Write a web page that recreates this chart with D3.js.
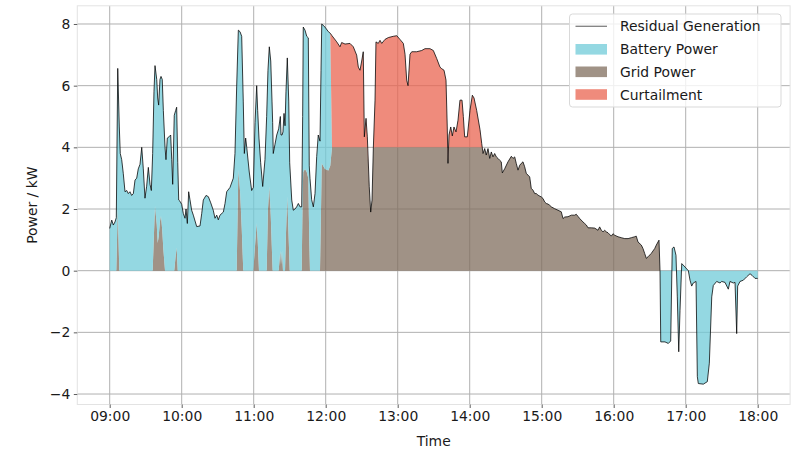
<!DOCTYPE html>
<html><head><meta charset="utf-8">
<script src="https://cdn.jsdelivr.net/npm/d3@7"></script>
<style>body{margin:0;background:#fff}svg{display:block}</style>
</head><body><svg id="c" width="800" height="449"></svg>
<script>
// minutes after 09:00
const minutes = [
0,1.7,3,4.4,5.5,6.7,8,8.8,10,11.3,
12.75,14.2,15.5,16.9,18.3,19.7,21.1,22.5,23.8,25.25,
26.7,28,29.4,30.8,32.2,33.6,34.7,35.8,36.9,37.75,
39.2,40,40.8,41.9,42.75,43.8,44.7,46.1,46.9,48,
49.7,50.8,51.7,52.5,53.8,55,55.8,56.7,57.5,58.6,
60,61.3,62.75,63.6,64.7,65.8,66.9,68.3,69.7,72.5,
75.25,76.7,78,80.25,82.2,84.2,86.3,87.75,89.2,90.5,
91.9,94.7,96.1,97.5,100.25,103,104.4,105.8,107.2,108.6,
110,111.3,112.2,113.3,114.2,116.3,118.3,119.7,121.1,122.5,
123.3,124.4,125.8,127.5,129.4,130.8,131.9,133,134.2,135.25,
135.8,136.3,137.75,139.2,140.8,142.2,142.75,143.6,144.4,145.25,
146.1,146.9,148,149.2,150,151.7,153,154.4,155.8,157.2,
158.6,160,160.8,161.3,162.75,164.2,165.5,166.3,166.9,168.3,
169.7,171.1,172.5,173.8,175.25,176.1,176.7,179.4,182.2,183.8,
185.25,189.2,191.9,193.3,196.1,200.25,203,205.8,207.2,208.6,
210,211.3,212.2,213.6,214.7,216.3,217.5,218.6,219.7,221.1,
221.9,223.8,225.25,226.7,229.4,232.2,236.3,239.2,241.9,244.7,
246.1,247.5,248.6,250.25,251.7,255.8,260,262.75,266.9,269.7,
272.5,275.25,276.7,278.6,280.25,281.3,281.9,282.75,284.2,285.5,
286.9,288.6,290.25,291.9,293.6,294.7,295.8,298,300.25,302.2,
303.6,305.8,308.6,310,
311.1,312.5,313.8,315.25,316.7,318,319.4,320.8,322.2,323.6,
325,326.3,327.2,329.2,331.9,334.7,336.1,337.5,338.8,340.25,
341.7,343,344.4,345.8,347.2,348.6,350,351.3,352.75,354.2,
355.5,356.9,359.7,361.1,362.5,363.8,365.25,366.7,368,370.8,
373.6,376.3,377.75,379.2,381.9,384.7,387.5,388.8,390.25,391.7,
394.4,395.8,397.2,398.6,401.3,404.2,406.9,408.3,409.7,411.1,
412.5,413.8,415.25,418,419.4,420.8,423.6,426.3,429.2,432,
434.75,437.5,438.8,440.25,443,444.4,445.8,447.2,448.6,451.3,
454.2,455.5,456.9,457.75,458.6,
459.2,462.75,465.5,467.5,468.8,470.25,471.9,473,474.2,475.25,
476.7,479.4,482.2,483.6,485,486.3,488.6,489.7,490.5,494.7,
498,499.7,501.7,503,505.8,508.6,510,512.75,515.5,516.9,
519.7,521.1,522.5,523.3,525.25,528,530.8,533.6,535.25,537.75,
540
];
// Residual Generation (kW)
const residual = [
1.37,1.64,1.48,1.58,1.72,6.56,4.66,3.8,3.6,3.16,
2.56,2.6,2.5,2.56,2.44,2.5,2.94,3.0,3.3,3.45,
4.0,3.3,2.35,2.74,3.35,2.8,2.6,3.8,5.8,6.65,
6.2,5.6,5.37,6.2,6.3,6.2,5.2,4.0,3.6,4.3,
4.35,4.4,3.6,2.8,5.04,5.2,5.3,3.5,2.29,2.25,
2.15,1.86,1.7,2.0,1.53,2.56,2.3,1.96,1.8,1.43,
1.45,1.86,2.29,2.44,2.4,2.2,1.96,1.7,1.8,1.65,
1.8,1.9,2.18,2.56,2.7,3.0,3.8,5.96,7.8,7.75,
7.6,5.5,3.8,4.3,4.0,3.2,2.6,2.7,4.8,6.0,
5.2,4.3,3.5,2.73,3.6,5.0,6.5,7.26,6.8,5.5,
4.8,3.8,4.1,4.4,4.6,5.0,4.4,4.4,4.5,5.1,
4.7,5.8,6.9,5.5,3.5,2.29,1.96,2.0,2.07,2.18,
2.07,2.07,5.0,7.9,7.8,7.6,7.55,3.4,3.0,2.3,
2.07,2.5,3.7,4.4,4.2,6.5,8.0,7.9,7.75,7.7,
7.62,7.42,7.26,7.4,7.35,7.37,7.26,6.99,6.6,6.5,
6.8,7.1,4.34,4.94,4.34,2.72,1.9,2.29,3.98,5.53,
7.42,7.37,7.47,7.37,7.5,7.56,7.6,7.62,7.5,7.37,
7.02,6.18,6.0,7.02,7.1,7.1,7.14,7.2,7.2,7.14,
6.88,6.6,6.55,6.5,6.18,4.66,3.48,4.4,4.66,4.37,
4.66,4.5,4.88,5.53,5.53,5.0,4.34,4.34,5.2,5.69,
5.6,5.2,4.57,4.13,
3.8,3.96,3.75,3.96,3.64,3.85,3.69,3.8,3.69,3.64,
3.58,3.53,3.17,3.31,3.53,3.71,3.64,3.69,3.48,3.26,
3.42,3.48,3.53,3.37,3.15,3.1,3.04,2.67,2.61,2.5,
2.5,2.45,2.39,2.34,2.23,2.18,2.16,2.12,2.07,2.01,
1.96,1.91,1.69,1.74,1.75,1.8,1.8,1.83,1.76,1.69,
1.58,1.53,1.48,1.39,1.39,1.38,1.31,1.42,1.31,1.26,
1.31,1.26,1.23,1.12,1.2,1.15,1.1,1.07,1.04,1.04,
1.07,1.1,1.12,0.93,0.83,0.72,0.56,0.4,0.45,0.56,
0.72,0.83,0.93,0.99,0,
-2.31,-2.31,-2.36,-2.28,0.72,0.77,0.5,-0.85,-2.63,-1.3,
0.23,0.12,0,-0.31,-0.5,-0.4,-0.35,-3.44,-3.66,-3.68,
-3.6,-3.0,-0.85,-0.48,-0.35,-0.4,-0.35,-0.38,-0.6,-0.35,
-0.4,-0.38,-2.04,-0.5,-0.35,-0.31,-0.2,-0.1,-0.15,-0.25,
-0.25
];
// Grid Power (kW)
const grid = [
0,0,0,0,0,2.05,0,0,0,0,
0,0,0,0,0,0,0,0,0,0,
0,0,0,0,0,0,0,0,1.2,2.1,
1.5,0.9,1.1,1.6,1.78,1.3,0.7,0,0,0,
0,0,0,0,0,0.5,0.75,0,0,0,
0,0,0,0,0,0,0,0,0,0,
0,0,0,0,0,0,0,0,0,0,
0,0,0,0,0,0,0,0,3.26,2.6,
1.4,0,0,0,0,0,0,0,0.8,1.54,
1.0,0,0,0,0,0,2.0,2.72,1.8,0.6,
0,0,0,0,0,0.65,0.2,0.65,0,0,
0,1.2,2.4,1.0,0,0,0,0,0,0,
0,0,2.5,3.2,3.3,3.2,3.0,1.0,0,0,
0,0,0,0,0,2.0,3.48,3.3,3.25,3.4,
4,4,4,4,4,4,4,4,4,4,
4,4,4,4,4,2.72,1.9,2.29,3.98,4,
4,4,4,4,4,4,4,4,4,4,
4,4,4,4,4,4,4,4,4,4,
4,4,4,4,4,4,3.48,4,4,4,
4,4,4,4,4,4,4,4,4,4,
4,4,4,4,
3.8,3.96,3.75,3.96,3.64,3.85,3.69,3.8,3.69,3.64,
3.58,3.53,3.17,3.31,3.53,3.71,3.64,3.69,3.48,3.26,
3.42,3.48,3.53,3.37,3.15,3.1,3.04,2.67,2.61,2.5,
2.5,2.45,2.39,2.34,2.23,2.18,2.16,2.12,2.07,2.01,
1.96,1.91,1.69,1.74,1.75,1.8,1.8,1.83,1.76,1.69,
1.58,1.53,1.48,1.39,1.39,1.38,1.31,1.42,1.31,1.26,
1.31,1.26,1.23,1.12,1.2,1.15,1.1,1.07,1.04,1.04,
1.07,1.1,1.12,0.93,0.83,0.72,0.56,0.4,0.45,0.56,
0.72,0.83,0.93,0.99,0,
0,0,0,0,0,0,0,0,0,0,
0,0,0,0,0,0,0,0,0,0,
0,0,0,0,0,0,0,0,0,0,
0,0,0,0,0,0,0,0,0,0,
0
];
// Battery Power (kW)
const battery = [
1.37,1.64,1.48,1.58,1.72,4.51,4.66,3.8,3.6,3.16,
2.56,2.6,2.5,2.56,2.44,2.5,2.94,3.0,3.3,3.45,
4.0,3.3,2.35,2.74,3.35,2.8,2.6,3.8,4.6,4.55,
4.7,4.7,4.27,4.6,4.52,4.9,4.5,4.0,3.6,4.3,
4.35,4.4,3.6,2.8,5.04,4.7,4.55,3.5,2.29,2.25,
2.15,1.86,1.7,2.0,1.53,2.56,2.3,1.96,1.8,1.43,
1.45,1.86,2.29,2.44,2.4,2.2,1.96,1.7,1.8,1.65,
1.8,1.9,2.18,2.56,2.7,3.0,3.8,5.96,4.54,5.15,
6.2,5.5,3.8,4.3,4.0,3.2,2.6,2.7,4.0,4.46,
4.2,4.3,3.5,2.73,3.6,5.0,4.5,4.54,5.0,4.9,
4.8,3.8,4.1,4.4,4.6,4.35,4.2,3.75,4.5,5.1,
4.7,4.6,4.5,4.5,3.5,2.29,1.96,2.0,2.07,2.18,
2.07,2.07,2.5,4.7,4.5,4.4,4.55,2.4,3.0,2.3,
2.07,2.5,3.7,4.4,4.2,4.5,4.52,4.6,4.5,4.3,
0,0,0,0,0,0,0,0,0,0,
0,0,0,0,0,0,0,0,0,0,
0,0,0,0,0,0,0,0,0,0,
0,0,0,0,0,0,0,0,0,0,
0,0,0,0,0,0,0,0,0,0,
0,0,0,0,0,0,0,0,0,0,
0,0,0,0,
0,0,0,0,0,0,0,0,0,0,
0,0,0,0,0,0,0,0,0,0,
0,0,0,0,0,0,0,0,0,0,
0,0,0,0,0,0,0,0,0,0,
0,0,0,0,0,0,0,0,0,0,
0,0,0,0,0,0,0,0,0,0,
0,0,0,0,0,0,0,0,0,0,
0,0,0,0,0,0,0,0,0,0,
0,0,0,0,0,
-2.31,-2.31,-2.36,-2.28,0.72,0.77,0.5,-0.85,-2.63,-1.3,
0.23,0.12,0,-0.31,-0.5,-0.4,-0.35,-3.44,-3.66,-3.68,
-3.6,-3.0,-0.85,-0.48,-0.35,-0.4,-0.35,-0.38,-0.6,-0.35,
-0.4,-0.38,-2.04,-0.5,-0.35,-0.31,-0.2,-0.1,-0.15,-0.25,
-0.25
];
// Curtailment (kW)
const curtailment = [
0,0,0,0,0,0,0,0,0,0,
0,0,0,0,0,0,0,0,0,0,
0,0,0,0,0,0,0,0,0,0,
0,0,0,0,0,0,0,0,0,0,
0,0,0,0,0,0,0,0,0,0,
0,0,0,0,0,0,0,0,0,0,
0,0,0,0,0,0,0,0,0,0,
0,0,0,0,0,0,0,0,0,0,
0,0,0,0,0,0,0,0,0,0,
0,0,0,0,0,0,0,0,0,0,
0,0,0,0,0,0,0,0,0,0,
0,0,0,0,0,0,0,0,0,0,
0,0,0,0,0,0,0,0,0,0,
0,0,0,0,0,0,0,0,0,0,
3.62,3.42,3.26,3.4,3.35,3.37,3.26,2.99,2.6,2.5,
2.8,3.1,0.34,0.94,0.34,0,0,0,0,1.53,
3.42,3.37,3.47,3.37,3.5,3.56,3.6,3.62,3.5,3.37,
3.02,2.18,2.0,3.02,3.1,3.1,3.14,3.2,3.2,3.14,
2.88,2.6,2.55,2.5,2.18,0.66,0,0.4,0.66,0.37,
0.66,0.5,0.88,1.53,1.53,1.0,0.34,0.34,1.2,1.69,
1.6,1.2,0.57,0.13,
0,0,0,0,0,0,0,0,0,0,
0,0,0,0,0,0,0,0,0,0,
0,0,0,0,0,0,0,0,0,0,
0,0,0,0,0,0,0,0,0,0,
0,0,0,0,0,0,0,0,0,0,
0,0,0,0,0,0,0,0,0,0,
0,0,0,0,0,0,0,0,0,0,
0,0,0,0,0,0,0,0,0,0,
0,0,0,0,0,
0,0,0,0,0,0,0,0,0,0,
0,0,0,0,0,0,0,0,0,0,
0,0,0,0,0,0,0,0,0,0,
0,0,0,0,0,0,0,0,0,0,
0
];
const xTickLabels = ["09:00","10:00","11:00","12:00","13:00","14:00","15:00","16:00","17:00","18:00"];
const yTickValues = [-4,-2,0,2,4,6,8];
const legendLabels = ["Residual Generation","Battery Power","Grid Power","Curtailment"];
const xLabel = "Time", yLabel = "Power / kW";

const colors = {battery:"#70cbd8", grid:"#806e5e", curtail:"#ea6450"};
const FONT = "'DejaVu Sans', sans-serif";

const svg = d3.select("#c");
const L = 77.3, R = 790.1, T = 5.8, B = 404.5;
const x = d3.scaleLinear().domain([-27, 567]).range([L, R]);
const y = d3.scaleLinear().domain([-4.34, 8.59]).range([B, T]);
const xTickValues = xTickLabels.map(s => { const [h, m] = s.split(":").map(Number); return (h - 9) * 60 + m; });

const n = Math.min(minutes.length, residual.length, grid.length, battery.length, curtailment.length);
const data = minutes.slice(0, n).map((m, i) => ({m, r: residual[i], g: grid[i], b: battery[i], c: curtailment[i]}));

// grid lines
const gl = svg.append("g");
xTickValues.forEach(v => gl.append("line").attr("x1", x(v)).attr("x2", x(v)).attr("y1", T).attr("y2", B)
  .attr("stroke", "#b0b0b0").attr("stroke-width", 1));
yTickValues.forEach(v => gl.append("line").attr("x1", L).attr("x2", R).attr("y1", y(v)).attr("y2", y(v))
  .attr("stroke", "#b0b0b0").attr("stroke-width", 1));

// stacked fills
const areaG = d3.area().x(d => x(d.m)).y0(y(0)).y1(d => y(d.g));
const areaB = d3.area().x(d => x(d.m)).y0(d => y(d.g)).y1(d => y(d.g + d.b));
const areaC = d3.area().x(d => x(d.m)).y0(d => y(d.g + d.b)).y1(d => y(d.g + d.b + d.c));
svg.append("path").datum(data).attr("d", areaG).attr("fill", colors.grid).attr("fill-opacity", 0.75);
svg.append("path").datum(data).attr("d", areaB).attr("fill", colors.battery).attr("fill-opacity", 0.75);
svg.append("path").datum(data).attr("d", areaC).attr("fill", colors.curtail).attr("fill-opacity", 0.75);

// residual line
const line = d3.line().x(d => x(d.m)).y(d => y(d.r));
svg.append("path").datum(data).attr("d", line).attr("fill", "none")
  .attr("stroke", "#000").attr("stroke-opacity", 0.8).attr("stroke-width", 0.95).attr("stroke-linejoin", "round");

// frame
svg.append("rect").attr("x", L).attr("y", T).attr("width", R - L).attr("height", B - T)
  .attr("fill", "none").attr("stroke", "#e3e3e3").attr("stroke-width", 1);

// axes
const xAxis = svg.append("g").attr("transform", `translate(0,${B})`)
  .call(d3.axisBottom(x).tickValues(xTickValues).tickFormat((d, i) => xTickLabels[i]).tickSize(3.5).tickPadding(3.5));
const yAxis = svg.append("g").attr("transform", `translate(${L},0)`)
  .call(d3.axisLeft(y).tickValues(yTickValues).tickFormat(d => d < 0 ? "\u2212" + Math.abs(d) : d).tickSize(3.5).tickPadding(3.5));
[xAxis, yAxis].forEach(a => {
  a.select(".domain").remove();
  a.selectAll(".tick line").attr("stroke", "#333").attr("stroke-width", 0.8);
  a.selectAll(".tick text").attr("fill", "#1a1a1a").style("font-family", FONT).style("font-size", "13.9px");
});

svg.append("text").attr("x", (L + R) / 2).attr("y", 446).attr("text-anchor", "middle")
  .style("font-family", FONT).style("font-size", "13.9px").attr("fill", "#1a1a1a").text(xLabel);
svg.append("text").attr("transform", `translate(37,${(T + B) / 2}) rotate(-90)`).attr("text-anchor", "middle")
  .style("font-family", FONT).style("font-size", "13.9px").attr("fill", "#1a1a1a").text(yLabel);

// legend
const lg = svg.append("g");
lg.append("rect").attr("x", 569.5).attr("y", 14).attr("width", 211.5).attr("height", 93).attr("rx", 3)
  .attr("fill", "#fff").attr("fill-opacity", 0.8).attr("stroke", "#d9d9d9").attr("stroke-width", 1);
const rowY = [26.3, 49.3, 71.8, 94.5];
legendLabels.forEach((lab, i) => {
  const cy = rowY[i];
  if (i === 0) {
    lg.append("line").attr("x1", 575.5).attr("x2", 607).attr("y1", cy).attr("y2", cy)
      .attr("stroke", "#000").attr("stroke-opacity", 0.5).attr("stroke-width", 1.3);
  } else {
    const col = [null, colors.battery, colors.grid, colors.curtail][i];
    lg.append("rect").attr("x", 575.5).attr("y", cy - 5.3).attr("width", 31.5).attr("height", 10.6)
      .attr("fill", col).attr("fill-opacity", 0.75);
  }
  lg.append("text").attr("x", 620).attr("y", cy + 5).style("font-family", FONT).style("font-size", "13.9px")
    .attr("fill", "#1a1a1a").text(lab);
});
</script></body></html>
